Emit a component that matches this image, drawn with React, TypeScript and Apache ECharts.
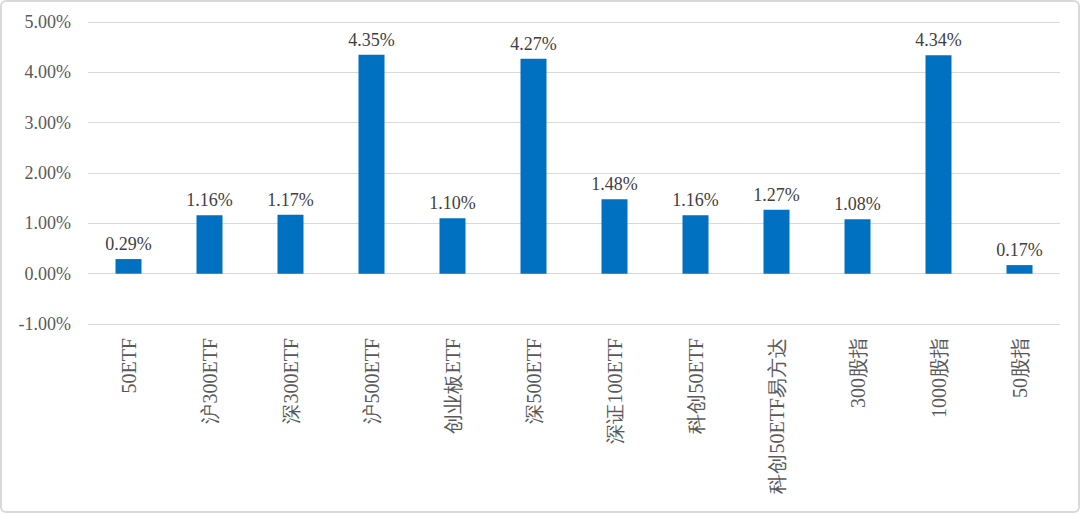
import React, { useEffect, useRef } from "react";
import * as echarts from "echarts";

const categories = ["50ETF", "沪300ETF", "深300ETF", "沪500ETF", "创业板ETF", "深500ETF", "深证100ETF", "科创50ETF", "科创50ETF易方达", "300股指", "1000股指", "50股指"];
const values = [0.29, 1.16, 1.17, 4.35, 1.10, 4.27, 1.48, 1.16, 1.27, 1.08, 4.34, 0.17];
const yMin = -1;
const yMax = 5;
const yInterval = 1;

const FONT = "Liberation Serif";

export default function App() {
  const ref = useRef<HTMLDivElement>(null);
  useEffect(() => {
    if (!ref.current) return;
    const chart = echarts.init(ref.current, undefined, { renderer: "svg" });
    chart.setOption({
      animation: false,
      textStyle: { fontFamily: FONT },
      grid: { left: 86, right: 18, top: 20, bottom: 187, containLabel: false },
      xAxis: {
        type: "category",
        data: categories,
        position: "bottom",
        axisLine: { show: false, onZero: false },
        axisTick: { show: false },
        axisLabel: {
          rotate: 90,
          interval: 0,
          margin: 14,
          color: "#595959",
          fontFamily: FONT,
          fontSize: 20,
        },
      },
      yAxis: {
        type: "value",
        min: yMin,
        max: yMax,
        interval: yInterval,
        axisLine: { show: false },
        axisTick: { show: false },
        splitLine: { lineStyle: { color: "#d9d9d9", width: 1 } },
        axisLabel: {
          margin: 17,
          color: "#595959",
          fontFamily: FONT,
          fontSize: 18,
          formatter: (v: number) => v.toFixed(2) + "%",
        },
      },
      series: [
        {
          type: "bar",
          data: values,
          barWidth: 26,
          itemStyle: { color: "#0070c0" },
          label: {
            show: true,
            position: "top",
            distance: 6,
            color: "#404040",
            fontFamily: FONT,
            fontSize: 18,
            formatter: (p: any) => p.value.toFixed(2) + "%",
          },
        },
      ],
    });
    return () => chart.dispose();
  }, []);
  return (
    <div
      style={{
        position: "fixed",
        left: 0,
        top: 0,
        width: 1080,
        height: 513,
        boxSizing: "border-box",
        border: "2px solid #d9d9d9",
        borderRadius: 6,
        background: "#fff",
      }}
    >
      <div ref={ref} style={{ width: "100%", height: "100%" }} />
    </div>
  );
}
